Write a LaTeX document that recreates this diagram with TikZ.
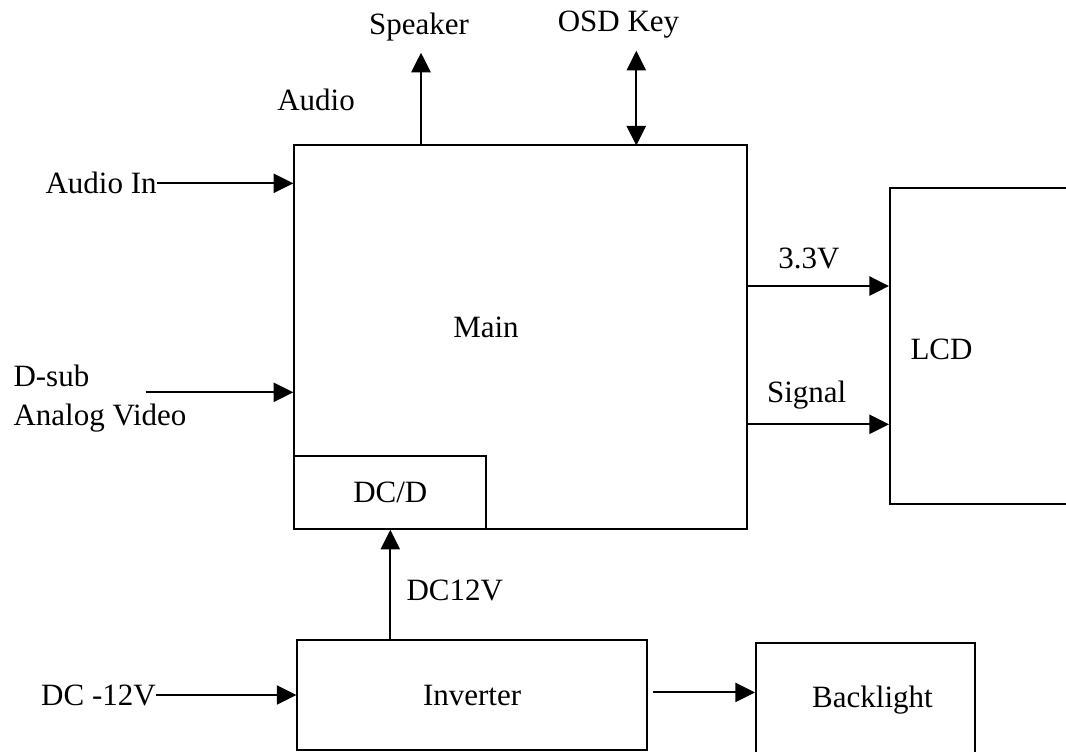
\documentclass[tikz,border=0pt]{standalone}
\usepackage{fontspec}
\setmainfont{Liberation Serif}
\usetikzlibrary{arrows.meta}

\def\pu{0.3871pt}

\begin{document}
\begin{tikzpicture}[
    x=\pu, y=-\pu,
    font=\fontsize{12}{14.8}\selectfont,
    blk/.style={
        draw,
        line width=0.8pt,
        inner sep=0pt,
        anchor=north west
    },
    lbl/.style={
        inner sep=0pt,
        anchor=base
    },
    arr/.style={
        -{Triangle[length=7.6pt,width=7.4pt]},
        line width=0.8pt
    },
    dbl/.style={
        {Triangle[length=7.6pt,width=7.4pt]}-{Triangle[length=7.6pt,width=7.4pt]},
        line width=0.8pt
    }
]

% Page
\clip (0,0) rectangle (1066,751);

% Blocks
\node[blk, minimum width=452.4*\pu, minimum height=383.4*\pu] (main) at (293.3,144.3) {};
\node[blk, minimum width=192*\pu, minimum height=73*\pu] (dcd) at (293.3,454.7) {DC/D};
\node[blk, minimum width=260*\pu, minimum height=316*\pu] (lcd) at (889,187.3) {};
\node[blk, minimum width=349.4*\pu, minimum height=110.3*\pu] (inv) at (296.4,639) {Inverter};
\node[blk, minimum width=218.5*\pu, minimum height=130*\pu] (bl) at (755,641.7) {};

% Block texts
\node[lbl] (mainlbl) at (486,337.3) {Main};
\node[lbl, anchor=base west] (lcdlbl) at (910,359) {LCD};
\node[lbl] (bllbl) at (872.5,707.7) {Backlight};

% Inputs
\node[lbl, anchor=west] (audioin) at (45,183.3) {Audio In};
\node[lbl, anchor=base west, align=left] (dsub) at (13,425) {D-sub\\Analog Video};
\node[lbl, anchor=west] (dcin) at (40.7,695) {DC -12V};
\coordinate (dsubout) at (145.7,392.3);

\draw[arr] (audioin.east) -- (audioin -| main.west);
\draw[arr] (dsubout) -- (dsubout -| main.west);
\draw[arr] (dcin.east) -- (dcin -| inv.west);

% Top side
\node[lbl] (spklbl) at (419,34) {Speaker};
\node[lbl] (osdlbl) at (618.5,31.7) {OSD Key};
\node[lbl] (audiolbl) at (316,110.7) {Audio};
\coordinate (spk) at (421,52.7);
\coordinate (osd) at (636.3,50.7);

\draw[arr] (spk |- main.north) -- (spk);
\draw[dbl] ([yshift=-1.3*\pu]osd |- main.north) -- (osd);

% To the LCD
\node[lbl] (pwrlbl) at (809,268.3) {3.3V};
\node[lbl] (siglbl) at (806.7,402) {Signal};
\coordinate (lcdpwr) at (889,286);
\coordinate (lcdsig) at (889,424.3);

\draw[arr] (main.east |- lcdpwr) -- (lcd.west |- lcdpwr);
\draw[arr] (main.east |- lcdsig) -- (lcd.west |- lcdsig);

% Power
\node[lbl, anchor=base west] (dc12lbl) at (406,600) {DC12V};

\draw[arr] (inv.north -| dcd.south) -- (dcd.south);
\draw[arr] ([xshift=5*\pu,yshift=2.8*\pu]inv.east) -- ([yshift=2.8*\pu]bl.west |- inv.east);

\end{tikzpicture}
\end{document}
